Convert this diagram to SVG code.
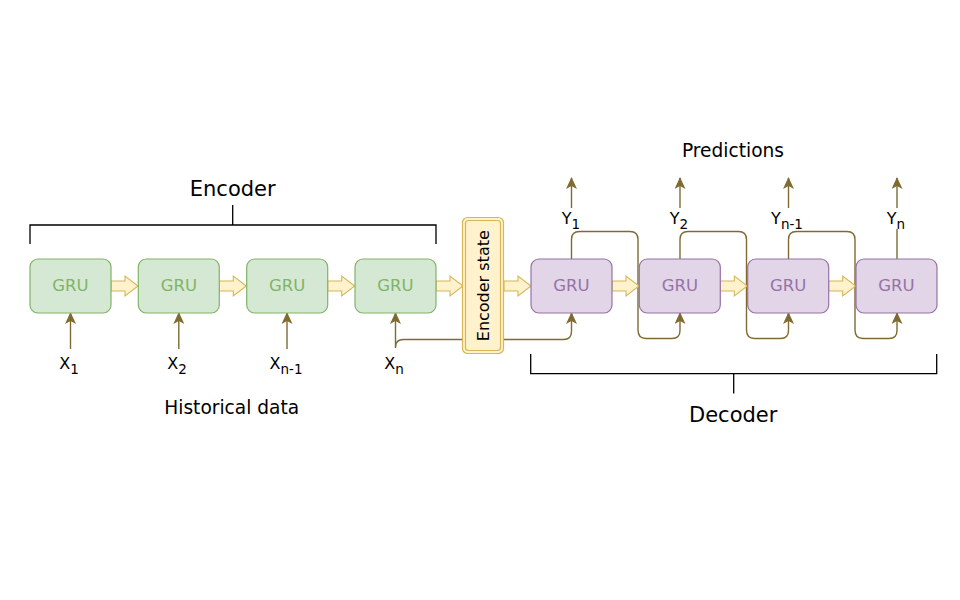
<svg xmlns="http://www.w3.org/2000/svg" xmlns:xlink="http://www.w3.org/1999/xlink" width="960" height="600" viewBox="0 0 960 600">
<style>
text{font-family:"DejaVu Sans","Liberation Sans",sans-serif;}
.enc{fill:#d5e8d4;stroke:#82b366;stroke-width:1.2;}
.dec{fill:#e1d5e7;stroke:#9673a6;stroke-width:1.2;}
.gt{fill:#82b366;font-size:16.5px;text-anchor:middle;}
.pt{fill:#9673a6;font-size:16.5px;text-anchor:middle;}
.st{fill:#fff2cc;stroke:#d6b656;stroke-width:1.2;}
.con{fill:none;stroke:#7f6b32;stroke-width:1.4;}
.arr{marker-end:url(#ah);}
.br{fill:none;stroke:#000;stroke-width:1.3;}
.lbl{fill:#000;font-size:16px;text-anchor:middle;}
.sub{font-size:13.5px;}
.big{fill:#000;font-size:21px;text-anchor:middle;}
.mid{fill:#000;font-size:18.6px;text-anchor:middle;}
</style>
<defs>
<marker id="ah" viewBox="0 0 12 11" refX="11" refY="5.5" markerWidth="12" markerHeight="11" markerUnits="userSpaceOnUse" orient="auto">
<path d="M0,0 L12,5.5 L0,11 L3,5.5 Z" fill="#7f6b32"/>
</marker>
<path id="blk" d="M0,281 L14,281 L14,276 L27,286 L14,296 L14,291 L0,291 Z" fill="#fff2cc" stroke="#d6b656" stroke-width="1.1"/>
</defs>
<rect width="960" height="600" fill="#fff"/>

<g id="connectors">
<path class="con arr" d="M70.5,349 L70.5,313"/>
<path class="con arr" d="M178.8,349 L178.8,313"/>
<path class="con arr" d="M287,349 L287,313"/>
<path class="con arr" d="M395.5,348 L395.5,313"/>
<path class="con arr" d="M395.5,347 Q395.5,339.5 403.5,339.5 L563.5,339.5 Q571.5,339.5 571.5,331.5 L571.5,313"/>
<path class="con arr" d="M571.5,259 L571.5,239.5 Q571.5,231.5 579.5,231.5 L630,231.5 Q638,231.5 638,239.5 L638,330 Q638,338.5 646,338.5 L672,338.5 Q680,338.5 680,330.5 L680,313"/>
<path class="con arr" d="M680,259 L680,239.5 Q680,231.5 688,231.5 L738.5,231.5 Q746.5,231.5 746.5,239.5 L746.5,330 Q746.5,338.5 754.5,338.5 L780.5,338.5 Q788.5,338.5 788.5,330.5 L788.5,313"/>
<path class="con arr" d="M788.5,259 L788.5,239.5 Q788.5,231.5 796.5,231.5 L847,231.5 Q855,231.5 855,239.5 L855,330 Q855,338.5 863,338.5 L889,338.5 Q897,338.5 897,330.5 L897,313"/>
<path class="con" d="M897,259 L897,229"/>
<path class="con arr" d="M571.5,208 L571.5,178"/>
<path class="con arr" d="M680,208 L680,178"/>
<path class="con arr" d="M788.5,208 L788.5,178"/>
<path class="con arr" d="M897,208 L897,178"/>
<use xlink:href="#blk" x="111"/>
<use xlink:href="#blk" x="219.3"/>
<use xlink:href="#blk" x="327.7"/>
<use xlink:href="#blk" x="436"/>
<use xlink:href="#blk" x="504"/>
<use xlink:href="#blk" x="612"/>
<use xlink:href="#blk" x="720.3"/>
<use xlink:href="#blk" x="828.7"/>
</g>

<g id="enc1"><rect class="enc" x="30" y="259" width="81" height="54" rx="8"/><text class="gt" x="70.5" y="291">GRU</text></g>
<g id="enc2"><rect class="enc" x="138.3" y="259" width="81" height="54" rx="8"/><text class="gt" x="178.8" y="291">GRU</text></g>
<g id="enc3"><rect class="enc" x="246.7" y="259" width="81" height="54" rx="8"/><text class="gt" x="287.2" y="291">GRU</text></g>
<g id="enc4"><rect class="enc" x="355" y="259" width="81" height="54" rx="8"/><text class="gt" x="395.5" y="291">GRU</text></g>

<g id="state">
<rect class="st" x="462.5" y="217.5" width="41" height="136" rx="5"/>
<rect class="st" x="465.5" y="220.5" width="35" height="130" rx="3"/>
<text class="lbl" transform="translate(489,285.7) rotate(-90)" x="0" y="0">Encoder state</text>
</g>

<g id="dec1"><rect class="dec" x="531" y="259" width="81" height="54" rx="8"/><text class="pt" x="571.5" y="291">GRU</text></g>
<g id="dec2"><rect class="dec" x="639.3" y="259" width="81" height="54" rx="8"/><text class="pt" x="679.8" y="291">GRU</text></g>
<g id="dec3"><rect class="dec" x="747.7" y="259" width="81" height="54" rx="8"/><text class="pt" x="788.2" y="291">GRU</text></g>
<g id="dec4"><rect class="dec" x="856" y="259" width="81" height="54" rx="8"/><text class="pt" x="896.5" y="291">GRU</text></g>

<g id="labels">
<text class="lbl" x="69" y="368.5">X<tspan class="sub" dy="5">1</tspan></text>
<text class="lbl" x="177" y="368.5">X<tspan class="sub" dy="5">2</tspan></text>
<text class="lbl" x="286" y="368.5">X<tspan class="sub" dy="5">n-1</tspan></text>
<text class="lbl" x="394" y="368.5">X<tspan class="sub" dy="5">n</tspan></text>
<text class="lbl" x="571" y="224">Y<tspan class="sub" dy="5">1</tspan></text>
<text class="lbl" x="679" y="224">Y<tspan class="sub" dy="5">2</tspan></text>
<text class="lbl" x="787" y="224">Y<tspan class="sub" dy="5">n-1</tspan></text>
<text class="lbl" x="896" y="224">Y<tspan class="sub" dy="5">n</tspan></text>
<text class="mid" x="733" y="156.7">Predictions</text>
<text class="mid" x="231.7" y="414">Historical data</text>
</g>

<g id="encoder-bracket">
<path class="br" d="M30,244 L30,225 L436,225 L436,244 M232.7,225 L232.7,205"/>
<text class="big" x="232.7" y="195.7">Encoder</text>
</g>
<g id="decoder-bracket">
<path class="br" d="M530.7,354 L530.7,373.7 L936.7,373.7 L936.7,354 M733.7,373.7 L733.7,393.5"/>
<text class="big" x="733.2" y="421.7">Decoder</text>
</g>
</svg>
